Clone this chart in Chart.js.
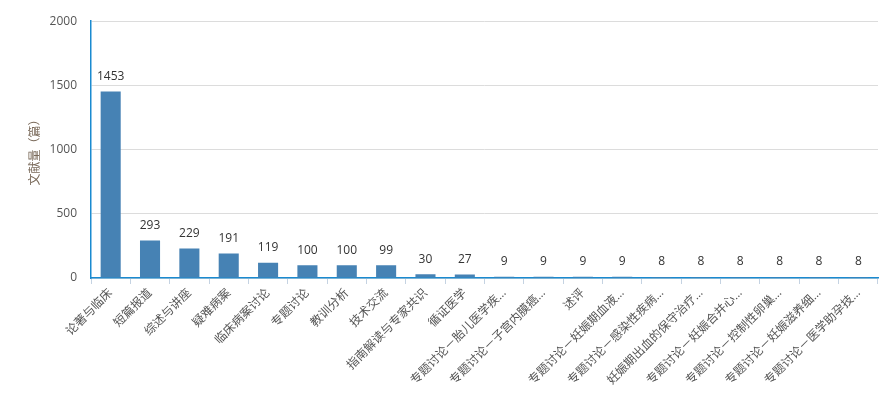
<!DOCTYPE html>
<html>
<head>
<meta charset="utf-8">
<script src="https://cdn.jsdelivr.net/npm/chart.js@4"></script>
<style>
  html, body { margin: 0; padding: 0; background: #fff; }
  #wrap { width: 895px; height: 411px; }
</style>
</head>
<body>
<div id="wrap"><canvas id="canvas" width="895" height="411"></canvas></div>
<script>
var categories = ['论著与临床', '短篇报道', '综述与讲座', '疑难病案', '临床病案讨论', '专题讨论', '教训分析', '技术交流',
    '指南解读与专家共识', '循证医学', '专题讨论－胎儿医学疾…', '专题讨论－子宫内膜癌…', '述评', '专题讨论－妊娠期血液…',
    '专题讨论－感染性疾病…', '妊娠期出血的保守治疗…', '专题讨论－妊娠合并心…', '专题讨论－控制性卵巢…',
    '专题讨论－妊娠滋养细…', '专题讨论－医学助孕技…'];
var counts = [1453, 293, 229, 191, 119, 100, 100, 99, 30, 27, 9, 9, 9, 9, 8, 8, 8, 8, 8, 8];
var yTicks = [0, 500, 1000, 1500, 2000];

var fontFamily = '"Open Sans", "Noto Sans CJK SC", sans-serif';

// numbers above each bar
var valueLabels = {
    id: 'valueLabels',
    afterDatasetsDraw: function (chart) {
        var ctx = chart.ctx;
        var meta = chart.getDatasetMeta(0);
        ctx.save();
        ctx.font = '12px ' + fontFamily;
        ctx.fillStyle = '#333';
        ctx.textAlign = 'center';
        ctx.textBaseline = 'bottom';
        meta.data.forEach(function (bar, i) {
            ctx.fillText(String(counts[i]), bar.x, bar.y - 9);
        });
        ctx.restore();
    }
};

var ctx = document.getElementById('canvas').getContext('2d');
var myBar = new Chart(ctx, {
    type: 'bar',
    data: {
        labels: categories,
        datasets: [{
            label: '文献量',
            data: counts,
            backgroundColor: '#4682b4',
            barPercentage: 0.51,
            categoryPercentage: 1
        }]
    },
    options: {
        responsive: false,
        animation: false,
        layout: { padding: { top: 12, right: 17, left: 0, bottom: 0 } },
        plugins: {
            legend: { display: false },
            tooltip: { enabled: false }
        },
        scales: {
            x: {
                grid: {
                    display: true,
                    drawOnChartArea: false,
                    drawTicks: true,
                    tickLength: 6,
                    color: '#c5d3e2',
                    offset: true
                },
                border: { color: '#1a8ad0', width: 1.5 },
                ticks: {
                    autoSkip: false,
                    maxRotation: 45,
                    minRotation: 45,
                    padding: 2,
                    color: '#555',
                    font: { size: 12, family: fontFamily }
                },
                afterFit: function (scale) { scale.height = 133; }
            },
            y: {
                min: 0,
                max: 2000,
                afterBuildTicks: function (scale) {
                    scale.ticks = yTicks.map(function (v) { return { value: v }; });
                },
                grid: { color: '#dcdcdc', drawTicks: false },
                border: { color: '#1a8ad0', width: 1.5 },
                ticks: {
                    padding: 14,
                    color: '#555',
                    font: { size: 12, family: fontFamily },
                    callback: function (v) { return String(v); }
                },
                title: {
                    display: true,
                    text: '文献量（篇）',
                    color: '#7a6a5a',
                    padding: { top: 28, bottom: 0 },
                    font: { size: 12, family: fontFamily }
                },
                afterFit: function (scale) { scale.width = 91; }
            }
        }
    },
    plugins: [valueLabels]
});
</script>
</body>
</html>
